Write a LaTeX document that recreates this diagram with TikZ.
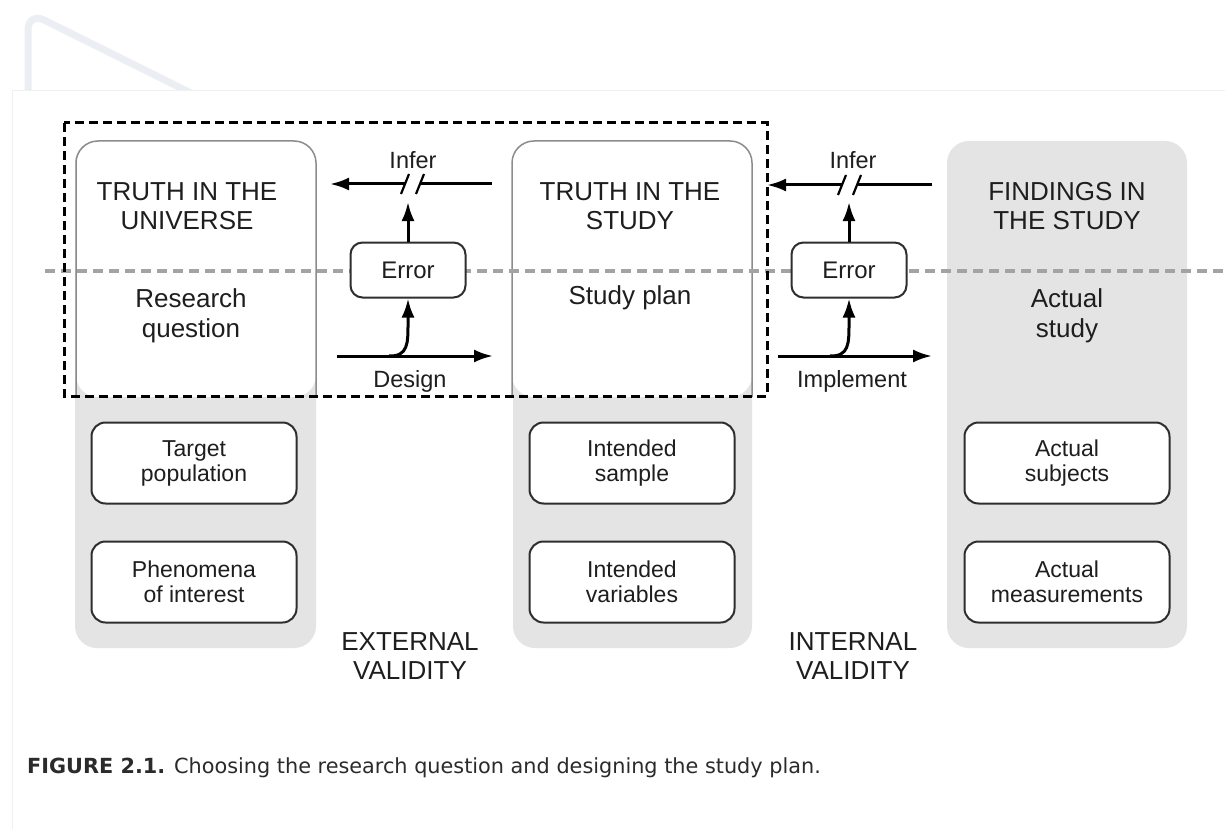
\documentclass[tikz,border=0pt]{standalone}
\usepackage{fontspec}
\setmainfont{Liberation Sans}
\newfontfamily\capfont{DejaVu Sans}
\usetikzlibrary{arrows.meta,calc}
\definecolor{txt}{HTML}{1E1E1E}
\definecolor{colgray}{HTML}{E4E4E4}
\definecolor{boxline}{HTML}{2E2E2E}
\definecolor{topline}{HTML}{8C8C8C}
\definecolor{midgray}{HTML}{A3A3A3}
\definecolor{deco}{HTML}{EBEEF2}
\definecolor{panelline}{HTML}{F0F0F0}
\definecolor{captxt}{HTML}{2B2B2B}
\tikzset{
  headtext/.style={text=txt, align=center, font=\fontsize{26}{29}\selectfont, inner sep=0pt},
  subtext/.style={text=txt, align=center, font=\fontsize{26}{30}\selectfont, inner sep=0pt},
  smalltext/.style={text=txt, align=center, font=\fontsize{23.5}{25}\selectfont, inner sep=0pt},
  innerbox/.style={draw=boxline, line width=2pt, fill=white, rounded corners=14pt,
     minimum width=205pt, minimum height=81pt, text=txt, align=center,
     font=\fontsize{23}{25}\selectfont, inner sep=0pt},
  errbox/.style={draw=boxline, line width=2pt, fill=white, rounded corners=12pt,
     minimum width=115pt, minimum height=55pt, text=txt,
     font=\fontsize{24}{26}\selectfont, inner sep=0pt},
  colfill/.style={fill=colgray, rounded corners=22pt},
  arr/.style={line width=3pt, draw=black, -{Latex[length=19pt,width=13pt]}},
  plainline/.style={line width=3pt, draw=black},
  slash/.style={line width=2.2pt, draw=black},
}
\begin{document}
\begin{tikzpicture}[x=1pt,y=-1pt]
\useasboundingbox (0,0) rectangle (1225,829);
\fill[white] (0,0) rectangle (1225,829);
% faint decoration behind the page panel
\draw[deco, line width=7pt, rounded corners=18pt] (28,100) -- (28,12) -- (205,100);
\fill[white] (12,91) rectangle (1225,829);
\draw[panelline, line width=1pt] (1225,91) -- (12,91) -- (12,829);

% columns
\fill[colfill] (75,141) rectangle (316,648);
\fill[colfill] (513,141) rectangle (752,648);
\fill[colfill] (947,141) rectangle (1187,648);
% white tops
\fill[white, rounded corners=22pt] (76,397) -- (76,141) -- (316,141) -- (316,397) -- cycle;
\draw[topline, line width=1.5pt, rounded corners=22pt] (76,397) -- (76,141) -- (316,141) -- (316,397);
\fill[white, rounded corners=22pt] (512,397) -- (512,141) -- (752,141) -- (752,397) -- cycle;
\draw[topline, line width=1.5pt, rounded corners=22pt] (512,397) -- (512,141) -- (752,141) -- (752,397);

% gray dashed separator
\draw[midgray, line width=4pt, dash pattern=on 10pt off 6pt] (45,271) -- (1225,271);
% black dashed frame
\draw[black, line width=3pt, dash pattern=on 9pt off 5pt] (64,123) rectangle (767,396);

% headings
\node[headtext] (h1) at (187,206) {TRUTH IN THE\\UNIVERSE};
\node[headtext] (h2) at (630,206) {TRUTH IN THE\\STUDY};
\node[headtext] (h3) at (1067,206) {FINDINGS IN\\THE STUDY};
\node[subtext] (s1) at (191,316) {Research\\question};
\node[subtext] (s2) at (630,298) {Study plan};
\node[subtext] (s3) at (1067,316) {Actual\\study};

% inner boxes
\node[innerbox] (b11) at (194,463) {Target\\population};
\node[innerbox] (b12) at (194,582) {Phenomena\\of interest};
\node[innerbox] (b21) at (632,463) {Intended\\sample};
\node[innerbox] (b22) at (632,582) {Intended\\variables};
\node[innerbox] (b31) at (1067,463) {Actual\\subjects};
\node[innerbox] (b32) at (1067,582) {Actual\\measurements};

% error boxes
\node[errbox] (e1) at (408,270) {Error};
\node[errbox] (e2) at (849,270) {Error};

% labels
\node[smalltext] (inf1) at (413,160) {Infer};
\node[smalltext] (inf2) at (853,160) {Infer};
\node[smalltext] (des) at (410,381) {Design};
\node[smalltext] (imp) at (852,381) {Implement};
\node[headtext] (ev) at (410,656) {EXTERNAL\\VALIDITY};
\node[headtext] (iv) at (853,656) {INTERNAL\\VALIDITY};

% coordinates for the connectors
\coordinate (i1s) at (492,184);
\coordinate (i1a) at (420,184);
\coordinate (i1b) at (405,184);
\coordinate (i1e) at (330,184);
\coordinate (i1u) at (408,202);
\coordinate (d1s) at (337,356);
\coordinate (d1e) at (493,356);
\coordinate (d1c) at (389,356);
\coordinate (i2s) at (932,185);
\coordinate (i2a) at (857,185);
\coordinate (i2b) at (842,185);
\coordinate (i2e) at (767,185);
\coordinate (i2u) at (849,202);
\coordinate (d2s) at (778,356);
\coordinate (d2e) at (932,356);
\coordinate (d2c) at (830,356);

% left infer (broken)
\draw[plainline] (i1s) -- (i1a);
\draw[slash] ($(i1a)+(-4,10)$) -- ($(i1a)+(4,-10)$);
\draw[slash] ($(i1b)+(-4,10)$) -- ($(i1b)+(4,-10)$);
\draw[arr] (i1b) -- (i1e);
\draw[arr] (e1.north) -- (i1u);
% design
\draw[arr] (d1s) -- (d1e);
\draw[arr] (d1c) .. controls ($(e1.south)+(0,58)$) and ($(e1.south)+(0,45)$) .. ($(e1.south)+(0,25)$) -- (e1.south);

% right infer (broken)
\draw[plainline] (i2s) -- (i2a);
\draw[slash] ($(i2a)+(-4,10)$) -- ($(i2a)+(4,-10)$);
\draw[slash] ($(i2b)+(-4,10)$) -- ($(i2b)+(4,-10)$);
\draw[arr] (i2b) -- (i2e);
\draw[arr] (e2.north) -- (i2u);
% implement
\draw[arr] (d2s) -- (d2e);
\draw[arr] (d2c) .. controls ($(e2.south)+(0,58)$) and ($(e2.south)+(0,45)$) .. ($(e2.south)+(0,25)$) -- (e2.south);

% caption
\node[anchor=base west, inner sep=0pt, text=captxt, font=\capfont\fontsize{20.8}{24}\selectfont] (cap) at (27,773)
  {\textbf{FIGURE 2.1.} Choosing the research question and designing the study plan.};
\end{tikzpicture}
\end{document}
